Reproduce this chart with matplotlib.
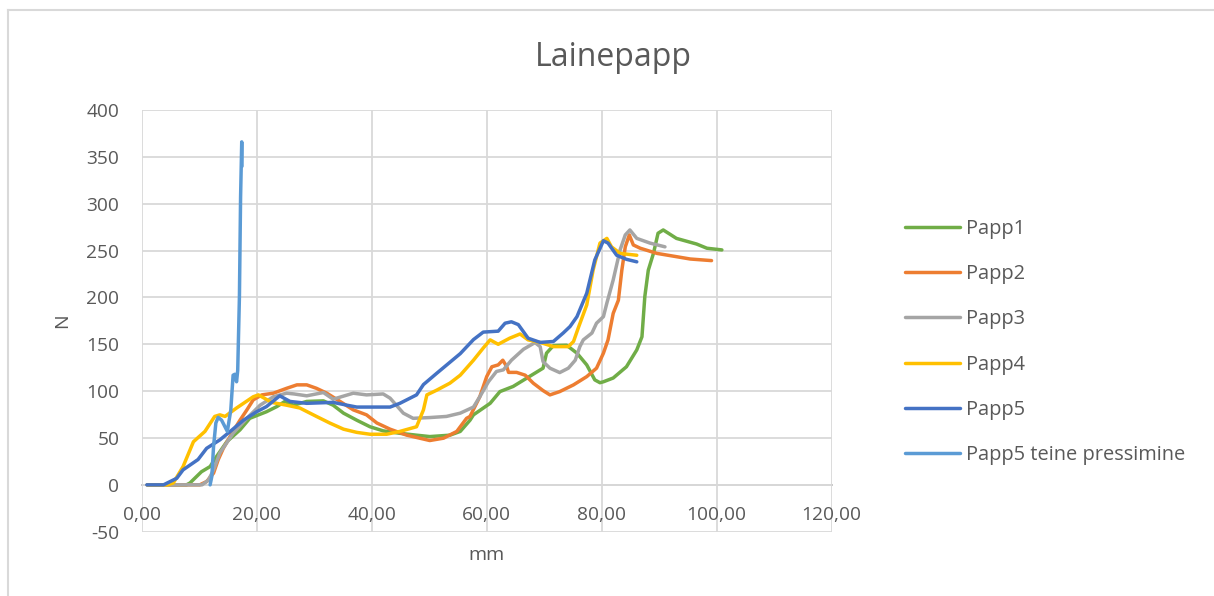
import matplotlib
matplotlib.use('Agg')
import matplotlib.pyplot as plt

plt.rcParams['font.family'] = ['Open Sans', 'DejaVu Sans']
plt.rcParams['axes.unicode_minus'] = False

# force (N) vs. displacement (mm) for each board sample
papp1_x = [1.0, 7.8, 8.4, 10.4, 11.9, 13.0, 14.8, 17.1, 18.8, 21.7, 23.5, 24.9, 26.4, 28.7, 31.6,
           33.3, 35.1, 37.4, 39.7, 42.0, 44.9, 47.8, 50.1, 53.6, 55.4, 57.1, 57.7, 60.6, 62.3, 64.6,
           67.0, 69.8, 70.4, 71.6, 73.9, 75.7, 77.4, 78.8, 79.7, 80.3, 82.0, 84.3, 86.1, 87.0, 87.5,
           88.1, 89.0, 89.8, 90.7, 91.6, 93.0, 96.5, 98.3, 100.9]
papp1_y = [0, 0, 2, 14, 19.5, 30, 46, 58.7, 71, 78, 83.5, 89, 85, 89, 89.6,
           85, 76.5, 69, 62, 57.6, 55, 53, 51.5, 53, 57, 69, 74.7, 87, 99.5, 105,
           114, 124.5, 140.5, 148.6, 149, 140.5, 128, 112, 109, 110, 114, 126, 144, 158, 201,
           229, 247, 268.5, 272, 268.5, 263, 257, 252.5, 250.7]

papp2_x = [1.0, 10.1, 11.3, 12.5, 13.3, 14.2, 15.7, 17.1, 18.3, 19.4, 20.9, 22.9, 25.2, 27.0, 28.7,
           30.4, 32.2, 34.5, 36.8, 39.1, 40.9, 43.2, 46.1, 50.1, 52.5, 54.8, 56.5, 57.1, 58.8, 60.0,
           60.9, 62.0, 62.8, 63.5, 63.8, 65.2, 66.7, 68.1, 69.8, 71.0, 72.7, 75.1, 77.4, 79.1, 80.3,
           81.1, 82.0, 82.9, 83.5, 84.1, 84.8, 85.5, 86.7, 89.6, 93.0, 95.4, 99.1]
papp2_y = [0, 0, 3.5, 12.5, 26.7, 39, 55, 69, 80, 90.7, 96, 97.8, 103, 106.7, 106.7,
           103, 97.8, 89, 80, 74.7, 66, 59.4, 53, 47.3, 49.8, 57, 71, 73, 94, 115.5,
           126, 128, 133, 126, 120, 120, 117, 108.5, 100.6, 96, 99.5, 106.7, 115.5, 124.5, 140.5,
           154.7, 183, 197, 229, 254, 266.7, 256, 252.5, 247, 243.5, 241, 239.3]

papp3_x = [1.0, 10.5, 11.6, 12.5, 13.6, 15.9, 18.3, 20.6, 22.9, 25.2, 26.5, 28.7, 31.6, 33.3, 36.8,
           39.1, 42.0, 43.2, 45.5, 47.2, 50.1, 53.0, 55.4, 57.7, 58.8, 60.3, 61.7, 62.9, 64.3, 66.4,
           68.4, 69.3, 69.8, 71.0, 72.7, 74.2, 75.4, 76.2, 76.8, 78.3, 79.1, 80.3, 80.9, 82.0, 83.2,
           84.1, 84.9, 86.1, 88.4, 91.0]
papp3_y = [0, 0, 5, 16, 34, 55, 71, 85, 94, 97.8, 97, 95, 98.5, 91.4, 97.8,
           96, 97, 92.5, 76.5, 71, 71.8, 73, 76.5, 83, 94, 110, 121, 122.7, 133, 144.7,
           151.8, 147.5, 131.5, 124.5, 119.8, 124.5, 133, 147.5, 154.7, 162, 172.5, 179.5, 194, 218.7, 250.7,
           266.7, 272, 263, 258, 254]

papp4_x = [1.0, 4.5, 5.5, 7.2, 9.0, 11.0, 12.7, 13.6, 14.5, 16.5, 19.4, 20.3, 22.6, 25.2, 27.5,
           30.4, 32.7, 35.1, 37.4, 39.7, 42.6, 44.9, 47.8, 49.0, 49.6, 51.3, 53.6, 55.4, 57.7, 59.4,
           60.6, 62.0, 64.0, 65.8, 67.2, 69.3, 71.6, 74.2, 75.1, 75.9, 77.4, 78.5, 79.7, 80.9, 81.7,
           83.2, 86.1]
papp4_y = [0, 0, 2, 19.5, 46, 57, 73, 74.7, 73, 82, 94, 96, 88, 85, 82,
           73, 66, 59.4, 56, 54, 54, 57, 62, 80, 96, 101, 108.5, 117, 133, 146,
           154.7, 150, 156.5, 161, 154.7, 152, 147.5, 147.5, 153, 167, 192, 229, 258, 263, 254,
           247, 245]

papp5_x = [0.9, 3.8, 6.1, 7.2, 9.8, 11.3, 13.6, 15.4, 17.7, 20.0, 21.7, 24.0, 25.8, 28.7, 33.3,
           35.7, 37.4, 40.0, 43.2, 44.9, 47.8, 49.0, 51.3, 55.4, 57.7, 59.4, 62.0, 63.2, 64.3, 65.5,
           67.2, 69.3, 71.6, 73.3, 74.5, 75.7, 77.4, 78.8, 80.3, 81.1, 82.6, 84.3, 86.1]
papp5_y = [0, 0, 7, 16, 27, 39, 48, 57, 69, 78, 83.5, 95, 89, 87, 88,
           85, 83, 83, 83, 87, 96, 107, 119, 140, 155, 163, 164, 172.5, 174, 171,
           156.5, 152, 153, 162, 169, 179.5, 204.5, 240, 260.5, 258, 245, 240.7, 238]

papp5t_x = [11.9, 12.2, 12.5, 12.9, 13.3, 13.9, 14.9, 15.5, 15.9, 16.2, 16.5, 16.7, 17.0, 17.2,
            17.4, 17.45]
papp5t_y = [0, 9, 41, 66, 72, 69, 57, 80, 117, 118, 110, 122, 201, 307, 366, 340]

series = [
    ('Papp1', papp1_x, papp1_y, '#70AD47'),
    ('Papp2', papp2_x, papp2_y, '#ED7D31'),
    ('Papp3', papp3_x, papp3_y, '#A5A5A5'),
    ('Papp4', papp4_x, papp4_y, '#FFC000'),
    ('Papp5', papp5_x, papp5_y, '#4472C4'),
    ('Papp5 teine pressimine', papp5t_x, papp5t_y, '#5B9BD5'),
]

TEXT = '#595959'
GRID = '#d9d9d9'

fig = plt.figure(figsize=(12.14, 5.96), dpi=100)
ax = fig.add_axes([0.1167, 0.1079, 0.5684, 0.7075])

for label, xs, ys, color in series:
    ax.plot(xs, ys, color=color, lw=2.5, label=label, solid_capstyle='round',
            solid_joinstyle='round')

ax.set_xlim(0, 120)
ax.set_ylim(-50, 400)
ax.set_xticks(range(0, 121, 20))
ax.set_xticklabels([f'{v},00' for v in range(0, 121, 20)])
ax.set_yticks(range(-50, 401, 50))
ax.grid(True, color=GRID, lw=1.3)
ax.set_axisbelow(True)

for side in ('top', 'right', 'left'):
    ax.spines[side].set_visible(False)
ax.spines['bottom'].set_position(('data', 0))
ax.spines['bottom'].set_color('#bfbfbf')
ax.spines['bottom'].set_linewidth(1.3)
ax.spines['bottom'].set_zorder(0.5)

ax.tick_params(axis='both', length=0, labelsize=13.8, labelcolor=TEXT)
ax.tick_params(axis='x', pad=15)
ax.tick_params(axis='y', pad=16)

ax.set_xlabel('mm', fontsize=14, color=TEXT)
ax.xaxis.set_label_coords(0.5, -0.035)
ax.set_ylabel('N', fontsize=14, color=TEXT)
ax.yaxis.set_label_coords(-0.102, 0.5)

fig.text(0.505, 0.903, 'Lainepapp', fontsize=23, color=TEXT, ha='center', va='center')

leg = ax.legend(loc='upper left', bbox_to_anchor=(905 / 1214, 1 - 219 / 596),
                bbox_transform=fig.transFigure, frameon=False, fontsize=14.4,
                handlelength=2.75, handletextpad=0.28, labelspacing=1.26,
                borderpad=0, borderaxespad=0)
for t in leg.get_texts():
    t.set_color(TEXT)

# outer chart border (only top/left edges fall inside the image)
fig.add_artist(plt.Line2D([8 / 1214, 8 / 1214], [0, 1 - 10 / 596], color=GRID, lw=1.5,
                          transform=fig.transFigure))
fig.add_artist(plt.Line2D([8 / 1214, 1], [1 - 10 / 596, 1 - 10 / 596], color=GRID, lw=1.5,
                          transform=fig.transFigure))

fig.savefig('out.png', dpi=100)
